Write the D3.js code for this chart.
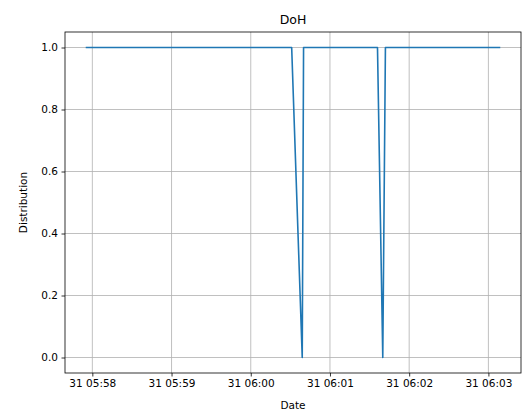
<!DOCTYPE html>
<html>
<head>
<meta charset="utf-8">
<script src="https://cdn.jsdelivr.net/npm/d3@7"></script>
<style>
  html, body { margin: 0; padding: 0; background: #fff; }
  svg { display: block; font-family: "DejaVu Sans", sans-serif; }
</style>
</head>
<body>
<svg id="chart" width="528" height="413"></svg>
<script>
// DoH resolution distribution over time
const times = [
  "2020-03-31T05:57:55", "2020-03-31T06:00:31", "2020-03-31T06:00:39",
  "2020-03-31T06:00:40", "2020-03-31T06:01:36", "2020-03-31T06:01:40",
  "2020-03-31T06:01:42", "2020-03-31T06:03:09"
];
const values = [1, 1, 0, 1, 1, 0, 1, 1];
const xTicks = ["2020-03-31T05:58:00", "2020-03-31T05:59:00", "2020-03-31T06:00:00",
                "2020-03-31T06:01:00", "2020-03-31T06:02:00", "2020-03-31T06:03:00"];
const yTicks = [0, 0.2, 0.4, 0.6, 0.8, 1.0];
const title = "DoH";
const xLabel = "Date";
const yLabel = "Distribution";

const parse = d3.timeParse("%Y-%m-%dT%H:%M:%S");
const data = times.map((t, i) => ({ t: parse(t), v: values[i] }));

const svg = d3.select("#chart");
const m = { left: 65, right: 7, top: 32, bottom: 40 };
const W = 528, H = 413;
const pw = W - m.left - m.right, ph = H - m.top - m.bottom;

// 5% padding on both axes
const tExt = d3.extent(data, d => d.t);
const span = tExt[1] - tExt[0];
const x = d3.scaleTime()
  .domain([new Date(+tExt[0] - span * 0.05), new Date(+tExt[1] + span * 0.05)])
  .range([m.left, m.left + pw]);
const y = d3.scaleLinear().domain([-0.05, 1.05]).range([m.top + ph, m.top]);

const xt = xTicks.map(parse);

// grid
const g = svg.append("g");
g.selectAll("line.gx").data(xt).enter().append("line")
  .attr("x1", d => x(d)).attr("x2", d => x(d))
  .attr("y1", m.top).attr("y2", m.top + ph)
  .attr("stroke", "#b0b0b0").attr("stroke-width", 0.8);
g.selectAll("line.gy").data(yTicks).enter().append("line")
  .attr("y1", d => y(d)).attr("y2", d => y(d))
  .attr("x1", m.left).attr("x2", m.left + pw)
  .attr("stroke", "#b0b0b0").attr("stroke-width", 0.8);

// series
svg.append("path").datum(data)
  .attr("fill", "none").attr("stroke", "#1f77b4").attr("stroke-width", 1.6)
  .attr("stroke-linejoin", "round")
  .attr("d", d3.line().x(d => x(d.t)).y(d => y(d.v)));

// axes
const fmt = d3.timeFormat("%d %H:%M");
const xAxis = svg.append("g").attr("transform", `translate(0,${m.top + ph})`)
  .call(d3.axisBottom(x).tickValues(xt).tickFormat(fmt).tickSizeInner(3.5).tickSizeOuter(0).tickPadding(3.5));
const yAxis = svg.append("g").attr("transform", `translate(${m.left},0)`)
  .call(d3.axisLeft(y).tickValues(yTicks).tickFormat(d3.format(".1f")).tickSizeInner(3.5).tickSizeOuter(0).tickPadding(3.5));
[xAxis, yAxis].forEach(a => {
  a.select(".domain").remove();
  a.selectAll("text").attr("font-size", 10.5).attr("fill", "#000").attr("font-family", "DejaVu Sans");
  a.selectAll("line").attr("stroke", "#000").attr("stroke-width", 0.8);
});

// frame
svg.append("rect").attr("x", m.left).attr("y", m.top).attr("width", pw).attr("height", ph)
  .attr("fill", "none").attr("stroke", "#000").attr("stroke-width", 0.8);

// labels
svg.append("text").attr("x", m.left + pw / 2).attr("y", 24).attr("text-anchor", "middle")
  .attr("font-size", 12.5).text(title);
svg.append("text").attr("x", m.left + pw / 2).attr("y", 409).attr("text-anchor", "middle")
  .attr("font-size", 10.5).text(xLabel);
svg.append("text").attr("transform", `translate(27,${m.top + ph / 2}) rotate(-90)`)
  .attr("text-anchor", "middle").attr("font-size", 10.5).text(yLabel);
</script>
</body>
</html>
